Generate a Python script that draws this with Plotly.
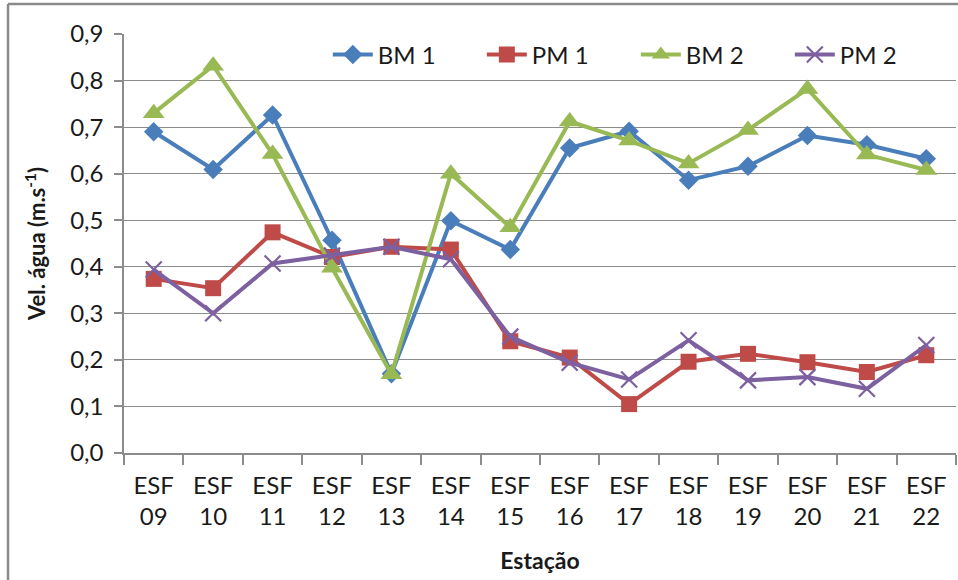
import plotly.graph_objects as go

# Stations and velocities (m/s)
estacoes = ["09", "10", "11", "12", "13", "14", "15", "16", "17", "18", "19", "20", "21", "22"]
rotulos = [f"ESF<br>{e}" for e in estacoes]

bm1 = [0.690, 0.609, 0.726, 0.457, 0.170, 0.499, 0.437, 0.655, 0.691, 0.586, 0.616, 0.682, 0.662, 0.632]
pm1 = [0.374, 0.354, 0.474, 0.421, 0.443, 0.437, 0.240, 0.205, 0.105, 0.196, 0.213, 0.195, 0.174, 0.210]
bm2 = [0.730, 0.832, 0.642, 0.398, 0.169, 0.600, 0.485, 0.712, 0.671, 0.622, 0.694, 0.782, 0.641, 0.608]
pm2 = [0.394, 0.300, 0.407, 0.424, 0.443, 0.416, 0.250, 0.194, 0.158, 0.242, 0.156, 0.163, 0.138, 0.232]

y_ticks = [0.0, 0.1, 0.2, 0.3, 0.4, 0.5, 0.6, 0.7, 0.8, 0.9]
y_labels = [f"{v:.1f}".replace(".", ",") for v in y_ticks]

FONT = "Lato"
TXT = "#1a1a1a"
GRID = "#8c8c8c"

series = [
    ("BM 1", bm1, "#4a7ebb", dict(symbol="diamond", size=15)),
    ("PM 1", pm1, "#be4b48", dict(symbol="square", size=16)),
    ("BM 2", bm2, "#98b954", dict(symbol="triangle-up", size=19)),
    ("PM 2", pm2, "#7d60a0", dict(symbol="x-thin", size=16, line=dict(width=2.2))),
]

fig = go.Figure()
for name, vals, color, mk in series:
    marker = dict(color=color, **mk)
    if "line" in marker:
        marker["line"] = dict(color=color, width=mk["line"]["width"])
    fig.add_trace(go.Scatter(
        x=rotulos, y=vals, name=name, mode="lines+markers",
        line=dict(color=color, width=4), marker=marker, cliponaxis=False,
    ))

# Outer chart frame (left and top edges)
for x0, y0, x1, y1 in [(-0.1394, -0.4, -0.1394, 1.0716), (-0.1394, 1.0716, 1.2, 1.0716)]:
    fig.add_shape(type="line", xref="paper", yref="paper", x0=x0, y0=y0, x1=x1, y1=y1,
                  line=dict(color="#8a8a8a", width=2.5))

fig.update_layout(
    width=958, height=580,
    margin=dict(l=124, r=2, t=34, b=127),
    paper_bgcolor="white", plot_bgcolor="white",
    font=dict(family=FONT, size=24, color=TXT),
    showlegend=True,
    legend=dict(
        orientation="h", x=0.245, y=0.95, xanchor="left", yanchor="middle",
        bgcolor="white", entrywidth=99, entrywidthmode="pixels",
        font=dict(family=FONT, size=24, color=TXT), itemwidth=40,
    ),
    xaxis=dict(
        type="category", range=[-0.5, 13.5],
        showline=True, linecolor=GRID, linewidth=1.5,
        ticks="outside", tickson="boundaries", ticklen=10, tickcolor=GRID, tickwidth=1.5,
        showgrid=False, tickfont=dict(family=FONT, size=24, color=TXT),
        ticklabelstandoff=10,
        title=dict(text="<b>Estação</b>", font=dict(family=FONT, size=23, color=TXT), standoff=24),
    ),
    yaxis=dict(
        range=[0, 0.9], tickvals=y_ticks, ticktext=y_labels,
        showline=True, linecolor=GRID, linewidth=1.5,
        ticks="outside", ticklen=8, tickcolor=GRID, tickwidth=1.5,
        showgrid=True, gridcolor=GRID, gridwidth=1.2, zeroline=False,
        tickfont=dict(family=FONT, size=24, color=TXT),
        ticklabelstandoff=6,
        title=dict(text="<b>Vel. água (m.s<sup>-1</sup>)</b>",
                   font=dict(family=FONT, size=22, color=TXT), standoff=18),
    ),
)

fig.write_html("out.html")
